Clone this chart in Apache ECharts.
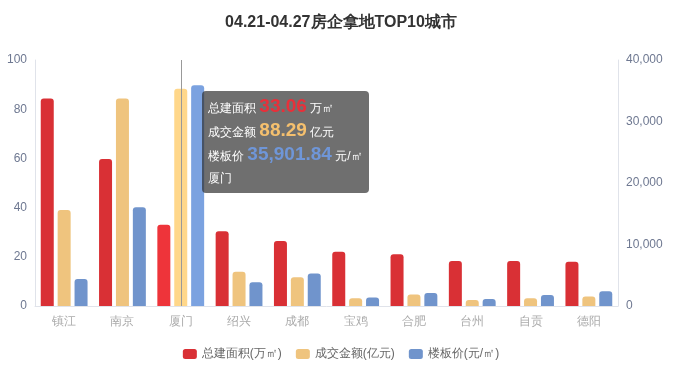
<!DOCTYPE html>
<html>
<head>
<meta charset="utf-8">
<script src="https://cdn.jsdelivr.net/npm/echarts@6/dist/echarts.min.js"></script>
<style>
  html, body { margin: 0; padding: 0; background: #fff; }
  #main { width: 682px; height: 378px; }
</style>
</head>
<body>
<div id="main"></div>
<script>
const cities = ['镇江', '南京', '厦门', '绍兴', '成都', '宝鸡', '合肥', '台州', '自贡', '德阳'];
const areaData = [84.4, 59.8, 33.06, 30.4, 26.4, 22.1, 21.0, 18.3, 18.3, 18.0];   // 万㎡
const amountData = [39.0, 84.4, 88.29, 13.9, 11.7, 3.1, 4.7, 2.4, 3.1, 3.9];    // 亿元
const priceData = [4400, 16050, 35901.84, 3850, 5300, 1400, 2100, 1150, 1800, 2400]; // 元/㎡
const legendNames = ['总建面积(万㎡)', '成交金额(亿元)', '楼板价(元/㎡)'];
const colors = ['#d93035', '#efc47e', '#7094cc'];

const chart = echarts.init(document.getElementById('main'));

const fmt = v => Number(v).toLocaleString('en-US', { minimumFractionDigits: 2, maximumFractionDigits: 2 });
const num = (v, c) => '<span style="color:' + c + ';font-size:19px;font-weight:bold;">' + v + '</span>';

const options = {
  animation: false,
  title: {
    text: '04.21-04.27房企拿地TOP10城市',
    left: 'center',
    top: 10,
    textStyle: { color: '#333', fontSize: 16, fontWeight: 'bold' }
  },
  grid: { left: 35, right: 64, top: 60, bottom: 72 },
  tooltip: {
    trigger: 'axis',
    axisPointer: { type: 'line', lineStyle: { color: '#999', width: 1, type: 'solid' } },
    backgroundColor: 'rgba(50,50,50,0.7)',
    borderWidth: 0,
    padding: [4, 6],
    textStyle: { color: '#fff', fontSize: 12 },
    extraCssText: 'line-height:22px;border-radius:4px;box-shadow:none;',
    position: function (point) {
      return [point[0] + 21, 91];
    },
    formatter: function (params) {
      const i = params[0].dataIndex;
      return '总建面积 ' + num(fmt(areaData[i]), '#e8303a') + ' 万㎡<br/>' +
        '成交金额 ' + num(fmt(amountData[i]), '#f5c06e') + ' 亿元<br/>' +
        '楼板价 ' + num(fmt(priceData[i]), '#6f96d8') + ' 元/㎡<br/>' +
        cities[i];
    }
  },
  legend: {
    bottom: 13,
    left: 'center',
    data: legendNames,
    itemWidth: 14,
    itemHeight: 10,
    itemGap: 14,
    itemStyle: { borderRadius: 3 },
    textStyle: { color: '#666', fontSize: 12 }
  },
  xAxis: {
    type: 'category',
    data: cities,
    axisLine: { lineStyle: { color: '#e0e3ea' } },
    axisTick: { lineStyle: { color: '#e0e3ea' } },
    axisLabel: { color: '#aaa', fontSize: 12, margin: 10 }
  },
  yAxis: [
    {
      type: 'value',
      min: 0,
      max: 100,
      interval: 20,
      axisLine: { show: true, lineStyle: { color: '#e0e3ea' } },
      axisLabel: { color: '#6e7891', fontSize: 12 },
      splitLine: { show: false }
    },
    {
      type: 'value',
      min: 0,
      max: 40000,
      interval: 10000,
      axisLine: { show: true, lineStyle: { color: '#e0e3ea' } },
      axisLabel: {
        color: '#6e7891',
        fontSize: 12,
        formatter: v => Number(v).toLocaleString('en-US')
      },
      splitLine: { show: false }
    }
  ],
  series: [areaData, amountData, priceData].map((d, idx) => ({
    name: legendNames[idx],
    type: 'bar',
    yAxisIndex: idx === 2 ? 1 : 0,
    barWidth: 13,
    barGap: '30%',
    itemStyle: { color: colors[idx], borderRadius: [3, 3, 0, 0] },
    data: d
  }))
};

chart.setOption(options);
chart.dispatchAction({ type: 'showTip', seriesIndex: 0, dataIndex: 2 });
</script>
</body>
</html>
